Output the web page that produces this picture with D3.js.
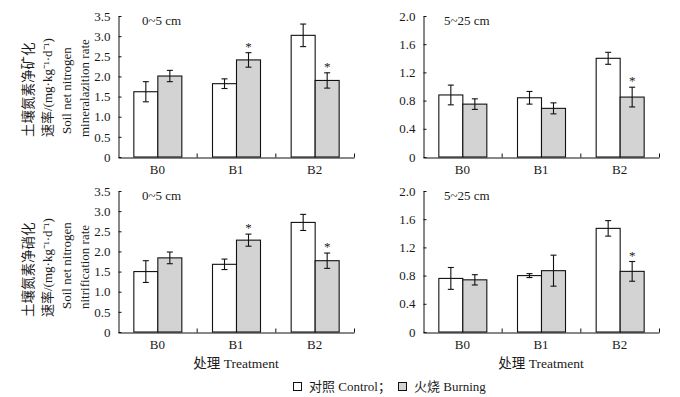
<!DOCTYPE html>
<html><head><meta charset="utf-8">
<script src="https://cdn.jsdelivr.net/npm/d3@7"></script>
<style>
html,body{margin:0;padding:0;background:#fff;}
svg{display:block;}
text{fill:#1a1a1a;}
</style></head>
<body>
<svg id="chart" width="680" height="397"></svg>
<script>
// ---------- data ----------
const categories = ["B0", "B1", "B2"];
const seriesNames = ["对照 Control；", "火烧 Burning"];

const minShallowControl = [1.62, 1.82, 3.02];
const minShallowControlErr = [0.25, 0.12, 0.28];
const minShallowBurning = [2.01, 2.41, 1.90];
const minShallowBurningErr = [0.14, 0.18, 0.19];
const minShallowSig = [false, true, true];

const minDeepControl = [0.88, 0.84, 1.40];
const minDeepControlErr = [0.14, 0.09, 0.085];
const minDeepBurning = [0.75, 0.69, 0.85];
const minDeepBurningErr = [0.075, 0.078, 0.14];
const minDeepSig = [false, false, true];

const nitShallowControl = [1.50, 1.68, 2.72];
const nitShallowControlErr = [0.27, 0.13, 0.20];
const nitShallowBurning = [1.84, 2.28, 1.77];
const nitShallowBurningErr = [0.145, 0.15, 0.19];
const nitShallowSig = [false, true, true];

const nitDeepControl = [0.76, 0.80, 1.47];
const nitDeepControlErr = [0.155, 0.028, 0.11];
const nitDeepBurning = [0.74, 0.87, 0.86];
const nitDeepBurningErr = [0.073, 0.22, 0.14];
const nitDeepSig = [false, false, true];

const shallowTicks = [0, 0.5, 1.0, 1.5, 2.0, 2.5, 3.0, 3.5];
const shallowTickLabels = ["0", "0.5", "1.0", "1.5", "2.0", "2.5", "3.0", "3.5"];
const deepTicks = [0, 0.4, 0.8, 1.2, 1.6, 2.0];
const deepTickLabels = ["0", "0.4", "0.8", "1.2", "1.6", "2.0"];

const depthLabels = ["0~5 cm", "5~25 cm"];
const xAxisTitle = "处理 Treatment";
const yTitleMin = ["土壤氮素净矿化", "速率/(mg·kg⁻¹·d⁻¹)", "Soil net nitrogen", "mineralazition rate"];
const yTitleNit = ["土壤氮素净硝化", "速率/(mg·kg⁻¹·d⁻¹)", "Soil net nitrogen", "nitrification rate"];

// ---------- drawing ----------
const svg = d3.select("#chart");
const serif = "'Liberation Serif','Times New Roman',serif";
const cjk = "'Liberation Serif','Noto Sans CJK SC',serif";
const colors = ["#ffffff", "#d3d3d3"];

function panel(opt) {
  const g = svg.append("g");
  const x0 = d3.scaleBand().domain(categories).range([opt.left, opt.left + 236]).padding(0);
  const x1 = d3.scaleBand().domain([0, 1]).range([x0.bandwidth() / 2 - 24, x0.bandwidth() / 2 + 24]).padding(0);
  const y = d3.scaleLinear().domain([0, opt.max]).range([opt.bottom, opt.top]);

  const rows = categories.map((c, i) => ({
    cat: c,
    vals: [
      {s: 0, v: opt.control[i], e: opt.controlErr[i], sig: false},
      {s: 1, v: opt.burning[i], e: opt.burningErr[i], sig: opt.sig[i]}
    ]
  }));

  const grp = g.selectAll("g.cat").data(rows).join("g")
    .attr("transform", d => `translate(${x0(d.cat)},0)`);

  grp.selectAll("rect").data(d => d.vals).join("rect")
    .attr("x", d => x1(d.s) + 0.5)
    .attr("y", d => y(d.v))
    .attr("width", x1.bandwidth())
    .attr("height", d => y(0) - y(d.v))
    .attr("fill", d => colors[d.s])
    .attr("stroke", "#111").attr("stroke-width", 1.1);

  const eb = grp.selectAll("g.err").data(d => d.vals).join("g").attr("class", "err");
  eb.append("line")
    .attr("x1", d => x1(d.s) + x1.bandwidth() / 2 + 0.5)
    .attr("x2", d => x1(d.s) + x1.bandwidth() / 2 + 0.5)
    .attr("y1", d => y(d.v + d.e)).attr("y2", d => y(d.v - d.e))
    .attr("stroke", "#111").attr("stroke-width", 1.1);
  [1, -1].forEach(sgn => {
    eb.append("line")
      .attr("x1", d => x1(d.s) + x1.bandwidth() / 2 - 2.5)
      .attr("x2", d => x1(d.s) + x1.bandwidth() / 2 + 3.5)
      .attr("y1", d => y(d.v + sgn * d.e)).attr("y2", d => y(d.v + sgn * d.e))
      .attr("stroke", "#111").attr("stroke-width", 1.1);
  });
  eb.filter(d => d.sig).append("text")
    .attr("x", d => x1(d.s) + x1.bandwidth() / 2 + 0.5)
    .attr("y", d => y(d.v + d.e) - 2)
    .attr("text-anchor", "middle")
    .style("font-family", serif).style("font-size", "13px")
    .text("*");

  // y axis
  const yAxis = d3.axisLeft(y).tickValues(opt.ticks)
    .tickFormat((d, i) => opt.tickLabels[i]).tickSizeInner(-3).tickSizeOuter(0).tickPadding(8);
  const ya = g.append("g").attr("transform", `translate(${opt.left + 0.5},0)`).call(yAxis);
  ya.selectAll("text").style("font-family", serif).style("font-size", "13px").attr("fill", "#1a1a1a");
  ya.selectAll("line,path").attr("stroke", "#111");

  // x axis
  const xAxis = d3.axisBottom(x0).tickSize(0).tickPadding(7);
  const xa = g.append("g").attr("transform", `translate(0,${opt.bottom + 0.5})`).call(xAxis);
  xa.selectAll("text").style("font-family", serif).style("font-size", "13px").attr("fill", "#1a1a1a");
  xa.select("path").attr("stroke", "#111");
  // separator ticks (inward)
  const seps = categories.slice(1).map(c => x0(c)).concat([opt.left + 236]);
  g.selectAll("line.sep").data(seps).join("line")
    .attr("x1", d => d + 0.5).attr("x2", d => d + 0.5)
    .attr("y1", opt.bottom + 0.5).attr("y2", opt.bottom - 3.5)
    .attr("stroke", "#111");

  // depth label
  g.append("text").attr("x", opt.left + opt.labelDx).attr("y", opt.top + 9)
    .style("font-family", serif).style("font-size", "13px").text(opt.depth);

  if (opt.xTitle) {
    g.append("text").attr("x", opt.left + 118).attr("y", opt.bottom + 36)
      .attr("text-anchor", "middle")
      .style("font-family", cjk).style("font-size", "13.5px").text(xAxisTitle);
  }
}

function yTitle(lines, xs, ys) {
  lines.forEach((t, i) => {
    svg.append("text")
      .attr("transform", `translate(${xs[i]},${ys[i]}) rotate(-90)`)
      .attr("dominant-baseline", "central")
      .style("font-family", cjk).style("font-size", i === 0 ? "13.5px" : "13px")
      .text(t);
  });
}

panel({left: 118, top: 16, bottom: 157, max: 3.5, ticks: shallowTicks, tickLabels: shallowTickLabels,
  control: minShallowControl, controlErr: minShallowControlErr, burning: minShallowBurning,
  burningErr: minShallowBurningErr, sig: minShallowSig, depth: depthLabels[0], labelDx: 24});
panel({left: 423, top: 16, bottom: 157, max: 2.0, ticks: deepTicks, tickLabels: deepTickLabels,
  control: minDeepControl, controlErr: minDeepControlErr, burning: minDeepBurning,
  burningErr: minDeepBurningErr, sig: minDeepSig, depth: depthLabels[1], labelDx: 21});
panel({left: 118, top: 191, bottom: 332, max: 3.5, ticks: shallowTicks, tickLabels: shallowTickLabels,
  control: nitShallowControl, controlErr: nitShallowControlErr, burning: nitShallowBurning,
  burningErr: nitShallowBurningErr, sig: nitShallowSig, depth: depthLabels[0], labelDx: 24, xTitle: true});
panel({left: 423, top: 191, bottom: 332, max: 2.0, ticks: deepTicks, tickLabels: deepTickLabels,
  control: nitDeepControl, controlErr: nitDeepControlErr, burning: nitDeepBurning,
  burningErr: nitDeepBurningErr, sig: nitDeepSig, depth: depthLabels[1], labelDx: 21, xTitle: true});

yTitle(yTitleMin, [28, 47, 66, 84], [137, 137, 134, 137]);
yTitle(yTitleNit, [28, 47, 66, 84], [317, 317, 309, 309]);

// legend
const leg = svg.append("g");
const legX = [293, 398];
seriesNames.forEach((n, i) => {
  leg.append("rect").attr("x", legX[i] + 0.5).attr("y", 382.5).attr("width", 8).attr("height", 8)
    .attr("fill", colors[i]).attr("stroke", "#111");
  leg.append("text").attr("x", legX[i] + 16).attr("y", 391)
    .style("font-family", cjk).style("font-size", "13px").text(n);
});
</script>
</body></html>
